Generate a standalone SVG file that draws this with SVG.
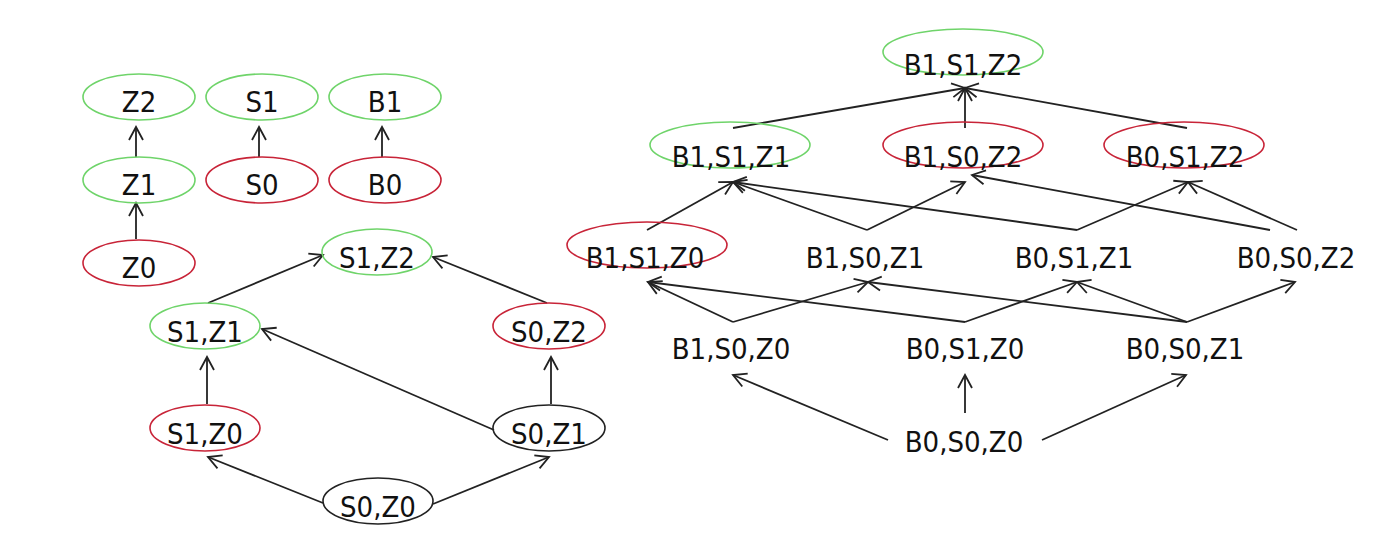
<svg xmlns="http://www.w3.org/2000/svg" width="1400" height="547" viewBox="0 0 1400 547">
<style>
text{font-family:"DejaVu Sans Condensed","DejaVu Sans",sans-serif;font-stretch:condensed;font-size:29px;fill:#111;text-anchor:middle}
ellipse{fill:none;stroke-width:1.6}
.g{stroke:#6fd46a}
.r{stroke:#c82438}
.k{stroke:#222}
.e line{stroke:#222;stroke-width:1.8;marker-end:url(#a)}
</style>
<defs>
<marker id="a" markerUnits="userSpaceOnUse" markerWidth="30" markerHeight="30" viewBox="-15 -15 30 30" refX="0" refY="0" orient="auto">
<path d="M-13,-7 L0,0 L-13,7" fill="none" stroke="#222" stroke-width="1.8"/>
</marker>
</defs>
<rect width="1400" height="547" fill="#fff"/>
<g class="e" id="connectors">
<line x1="136" y1="157" x2="136" y2="127"/>
<line x1="136" y1="239" x2="136" y2="203"/>
<line x1="259" y1="157" x2="259" y2="127"/>
<line x1="382" y1="157" x2="382" y2="127"/>
<line x1="208" y1="303" x2="323" y2="255"/>
<line x1="547" y1="303" x2="433" y2="257"/>
<line x1="207" y1="404" x2="207" y2="357"/>
<line x1="551" y1="404" x2="551" y2="357"/>
<line x1="494" y1="430" x2="262" y2="329"/>
<line x1="323" y1="503" x2="208" y2="457"/>
<line x1="433" y1="504" x2="549" y2="457"/>
<line x1="733" y1="128" x2="965" y2="88"/>
<line x1="965" y1="128" x2="965" y2="88"/>
<line x1="1187" y1="128" x2="965" y2="88"/>
<line x1="647" y1="230" x2="733" y2="182"/>
<line x1="867" y1="230" x2="733" y2="182"/>
<line x1="867" y1="230" x2="965" y2="182"/>
<line x1="1077" y1="230" x2="733" y2="182"/>
<line x1="1077" y1="230" x2="1188" y2="182"/>
<line x1="1270" y1="230" x2="972" y2="175"/>
<line x1="1297" y1="230" x2="1188" y2="182"/>
<line x1="733" y1="322" x2="648" y2="282"/>
<line x1="733" y1="322" x2="868" y2="282"/>
<line x1="965" y1="322" x2="648" y2="282"/>
<line x1="965" y1="322" x2="1077" y2="282"/>
<line x1="1187" y1="322" x2="868" y2="282"/>
<line x1="1187" y1="322" x2="1077" y2="282"/>
<line x1="1187" y1="322" x2="1295" y2="282"/>
<line x1="888" y1="440" x2="733" y2="375"/>
<line x1="965" y1="413" x2="965" y2="375"/>
<line x1="1042" y1="440" x2="1186" y2="375"/>
</g>
<g id="n-z2"><ellipse class="g" cx="139" cy="97" rx="56" ry="23"/><text x="139" y="112">Z2</text></g>
<g id="n-s1"><ellipse class="g" cx="262" cy="97" rx="56" ry="23"/><text x="262" y="112">S1</text></g>
<g id="n-b1"><ellipse class="g" cx="385" cy="97" rx="56" ry="23"/><text x="385" y="112">B1</text></g>
<g id="n-z1"><ellipse class="g" cx="139" cy="180" rx="56" ry="23"/><text x="139" y="195">Z1</text></g>
<g id="n-s0"><ellipse class="r" cx="262" cy="180" rx="56" ry="23"/><text x="262" y="195">S0</text></g>
<g id="n-b0"><ellipse class="r" cx="385" cy="180" rx="56" ry="23"/><text x="385" y="195">B0</text></g>
<g id="n-z0"><ellipse class="r" cx="139" cy="263" rx="56" ry="23"/><text x="139" y="278">Z0</text></g>
<g id="n-s1z2"><ellipse class="g" cx="377" cy="252" rx="55" ry="23"/><text x="377" y="268">S1,Z2</text></g>
<g id="n-s1z1"><ellipse class="g" cx="205" cy="326" rx="55" ry="23"/><text x="205" y="342">S1,Z1</text></g>
<g id="n-s0z2"><ellipse class="r" cx="549" cy="326" rx="56" ry="23"/><text x="549" y="342">S0,Z2</text></g>
<g id="n-s1z0"><ellipse class="r" cx="205" cy="428" rx="55" ry="23"/><text x="205" y="444">S1,Z0</text></g>
<g id="n-s0z1"><ellipse class="k" cx="549" cy="428" rx="56" ry="23"/><text x="549" y="444">S0,Z1</text></g>
<g id="n-s0z0"><ellipse class="k" cx="378" cy="501" rx="55" ry="23"/><text x="378" y="517">S0,Z0</text></g>
<g id="n-b1s1z2"><ellipse class="g" cx="963" cy="52" rx="80" ry="23"/><text x="963" y="75">B1,S1,Z2</text></g>
<g id="n-b1s1z1"><ellipse class="g" cx="730" cy="145" rx="80" ry="23"/><text x="731" y="167">B1,S1,Z1</text></g>
<g id="n-b1s0z2"><ellipse class="r" cx="963" cy="145" rx="80" ry="23"/><text x="963" y="167">B1,S0,Z2</text></g>
<g id="n-b0s1z2"><ellipse class="r" cx="1184" cy="145" rx="80" ry="23"/><text x="1185" y="167">B0,S1,Z2</text></g>
<g id="n-b1s1z0"><ellipse class="r" cx="647" cy="245" rx="80" ry="23"/><text x="645" y="268">B1,S1,Z0</text></g>
<g id="n-b1s0z1"><text x="865" y="268">B1,S0,Z1</text></g>
<g id="n-b0s1z1"><text x="1074" y="268">B0,S1,Z1</text></g>
<g id="n-b0s0z2"><text x="1296" y="268">B0,S0,Z2</text></g>
<g id="n-b1s0z0"><text x="731" y="359">B1,S0,Z0</text></g>
<g id="n-b0s1z0"><text x="965" y="359">B0,S1,Z0</text></g>
<g id="n-b0s0z1"><text x="1185" y="359">B0,S0,Z1</text></g>
<g id="n-b0s0z0"><text x="964" y="452">B0,S0,Z0</text></g>
</svg>
